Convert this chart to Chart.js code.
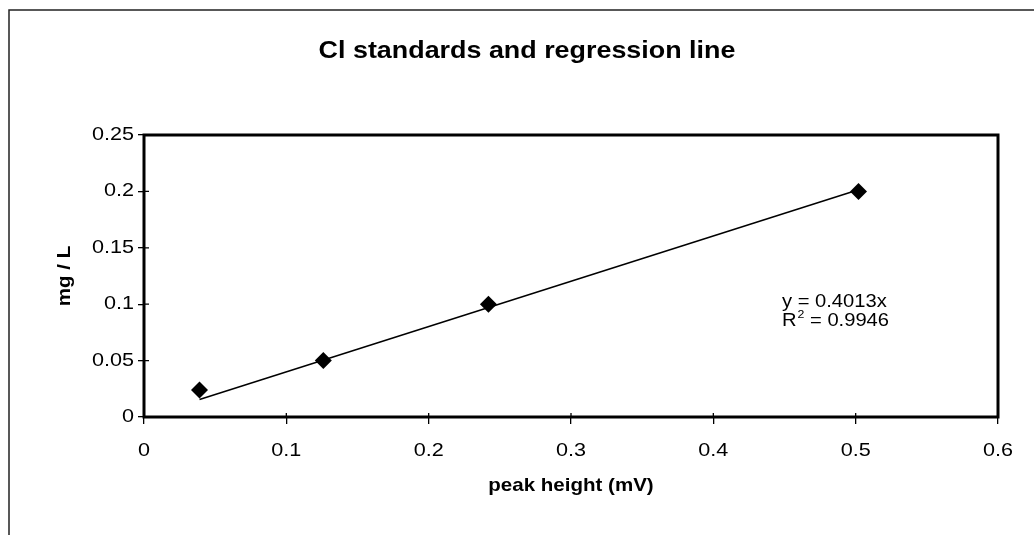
<!DOCTYPE html>
<html><head><meta charset="utf-8">
<script src="https://cdn.jsdelivr.net/npm/chart.js@4.4.1/dist/chart.umd.min.js"></script>
<style>html,body{margin:0;padding:0;background:#fff}#wrap{width:1034px;height:535px;position:relative}</style>
</head><body><div id="wrap"><canvas id="c"></canvas></div>
<script>
const standardsX = [0.039, 0.126, 0.242, 0.502];
const standardsY = [0.024, 0.05, 0.1, 0.2];
const trendX = [0.039, 0.502];
const trendY = [0.0155, 0.2015];
const xTicks = [0, 0.1, 0.2, 0.3, 0.4, 0.5, 0.6];
const yTicks = [0, 0.05, 0.1, 0.15, 0.2, 0.25];
const titleText = 'Cl standards and regression line';
const xTitle = 'peak height (mV)';
const yTitle = 'mg / L';
const eqText = 'y = 0.4013x';
const r2Label = 'R';
const r2Sup = '2';
const r2Value = ' = 0.9946';

const FONT = "'Liberation Sans', Arial, sans-serif";
let stretchOverride = null;
function stretchFor(font) {
  if (stretchOverride) return stretchOverride;
  if (/bold/.test(font)) return 1.08;
  return 1.2;
}

const framePlugin = {
  id: 'framePlugin',
  beforeDraw(chart) {
    const ctx = chart.ctx;
    if (!ctx._origFill) {
      const orig = ctx.fillText;
      ctx._origFill = orig;
      ctx.fillText = function (t, x, y, m) {
        const s = stretchFor(this.font);
        this.save();
        this.translate(x, y);
        this.scale(s, 1);
        if (m === undefined || m === null) orig.call(this, t, 0, 0);
        else orig.call(this, t, 0, 0, m / s);
        this.restore();
      };
    }
    ctx.save();
    ctx.fillStyle = '#fff';
    ctx.fillRect(0, 0, chart.width, chart.height);
    ctx.strokeStyle = '#222';
    ctx.lineWidth = 1.5;
    ctx.beginPath();
    ctx.moveTo(9, chart.height);
    ctx.lineTo(9, 10);
    ctx.lineTo(chart.width, 10);
    ctx.stroke();
    // title
    ctx.fillStyle = '#000';
    ctx.textAlign = 'center';
    ctx.textBaseline = 'alphabetic';
    ctx.font = 'bold 24px ' + FONT;
    stretchOverride = 1.12;
    ctx.fillText(titleText, 527, 58);
    stretchOverride = null;
    ctx.restore();
  },
  beforeDatasetsDraw(chart) {
    const ctx = chart.ctx;
    const a = chart.chartArea;
    const ys = chart.scales.y;
    const xs = chart.scales.x;
    ctx.save();
    ctx.strokeStyle = '#000';
    ctx.lineWidth = 1.3;
    ctx.beginPath();
    yTicks.forEach(v => {
      const py = ys.getPixelForValue(v);
      ctx.moveTo(a.left, py);
      ctx.lineTo(a.left + 5, py);
    });
    xTicks.forEach(v => {
      const px = xs.getPixelForValue(v);
      ctx.moveTo(px, a.bottom);
      ctx.lineTo(px, a.bottom - 4);
    });
    ctx.stroke();
    ctx.lineWidth = 3;
    ctx.strokeRect(a.left, a.top, a.right - a.left, a.bottom - a.top);
    ctx.restore();
  },
  afterDraw(chart) {
    const ctx = chart.ctx;
    ctx.save();
    ctx.fillStyle = '#000';
    ctx.textBaseline = 'alphabetic';
    ctx.textAlign = 'left';
    const s = 1.12;
    stretchOverride = s;
    ctx.font = '18px ' + FONT;
    const x0 = 782;
    ctx.fillText(eqText, x0, 307);
    ctx.fillText(r2Label, x0, 325.5);
    const wR = ctx.measureText(r2Label).width * s;
    ctx.font = '11px ' + FONT;
    ctx.fillText(r2Sup, x0 + wR + 1, 318);
    const wS = ctx.measureText(r2Sup).width * s;
    ctx.font = '18px ' + FONT;
    ctx.fillText(r2Value, x0 + wR + wS + 1, 325.5);
    stretchOverride = null;
    ctx.restore();
  }
};

new Chart(document.getElementById('c'), {
  type: 'scatter',
  data: {
    datasets: [
      {
        type: 'scatter',
        label: 'standards',
        data: standardsX.map((x, i) => ({x: x, y: standardsY[i]})),
        pointStyle: 'rectRot',
        pointRadius: 8.5,
        backgroundColor: '#000',
        borderColor: '#000',
        borderWidth: 0,
        order: 1
      },
      {
        type: 'line',
        label: 'regression',
        data: trendX.map((x, i) => ({x: x, y: trendY[i]})),
        borderColor: '#000',
        borderWidth: 1.5,
        pointRadius: 0,
        fill: false,
        order: 2
      }
    ]
  },
  options: {
    responsive: true,
    maintainAspectRatio: false,
    animation: false,
    layout: {padding: {left: 0, right: 36, top: 135, bottom: 0}},
    plugins: {
      legend: {display: false},
      tooltip: {enabled: false},
      title: {display: false}
    },
    scales: {
      x: {
        type: 'linear', position: 'bottom', min: 0, max: 0.6,
        afterBuildTicks: s => { s.ticks = xTicks.map(v => ({value: v})); },
        afterFit: s => { s.height = 118; },
        border: {display: false},
        grid: {drawOnChartArea: false, drawTicks: true, tickLength: 7, color: '#000', lineWidth: 1.3},
        ticks: {color: '#000', font: {family: FONT, size: 18}, padding: 16, callback: v => String(v), maxRotation: 0},
        title: {display: true, text: xTitle, color: '#000', font: {family: FONT, size: 19, weight: 'bold'}, padding: {top: 0, bottom: 38}}
      },
      y: {
        type: 'linear', position: 'left', min: 0, max: 0.25,
        afterBuildTicks: s => { s.ticks = yTicks.map(v => ({value: v})); },
        afterFit: s => { s.width = 144; },
        border: {display: false},
        grid: {drawOnChartArea: false, drawTicks: true, tickLength: 6, color: '#000', lineWidth: 1.3},
        ticks: {color: '#000', font: {family: FONT, size: 18}, padding: 4, callback: v => String(v)},
        title: {display: true, text: yTitle, color: '#000', font: {family: FONT, size: 19, weight: 'bold'}, padding: {top: 53.5, bottom: 0}}
      }
    }
  },
  plugins: [framePlugin]
});
</script>
</body></html>
